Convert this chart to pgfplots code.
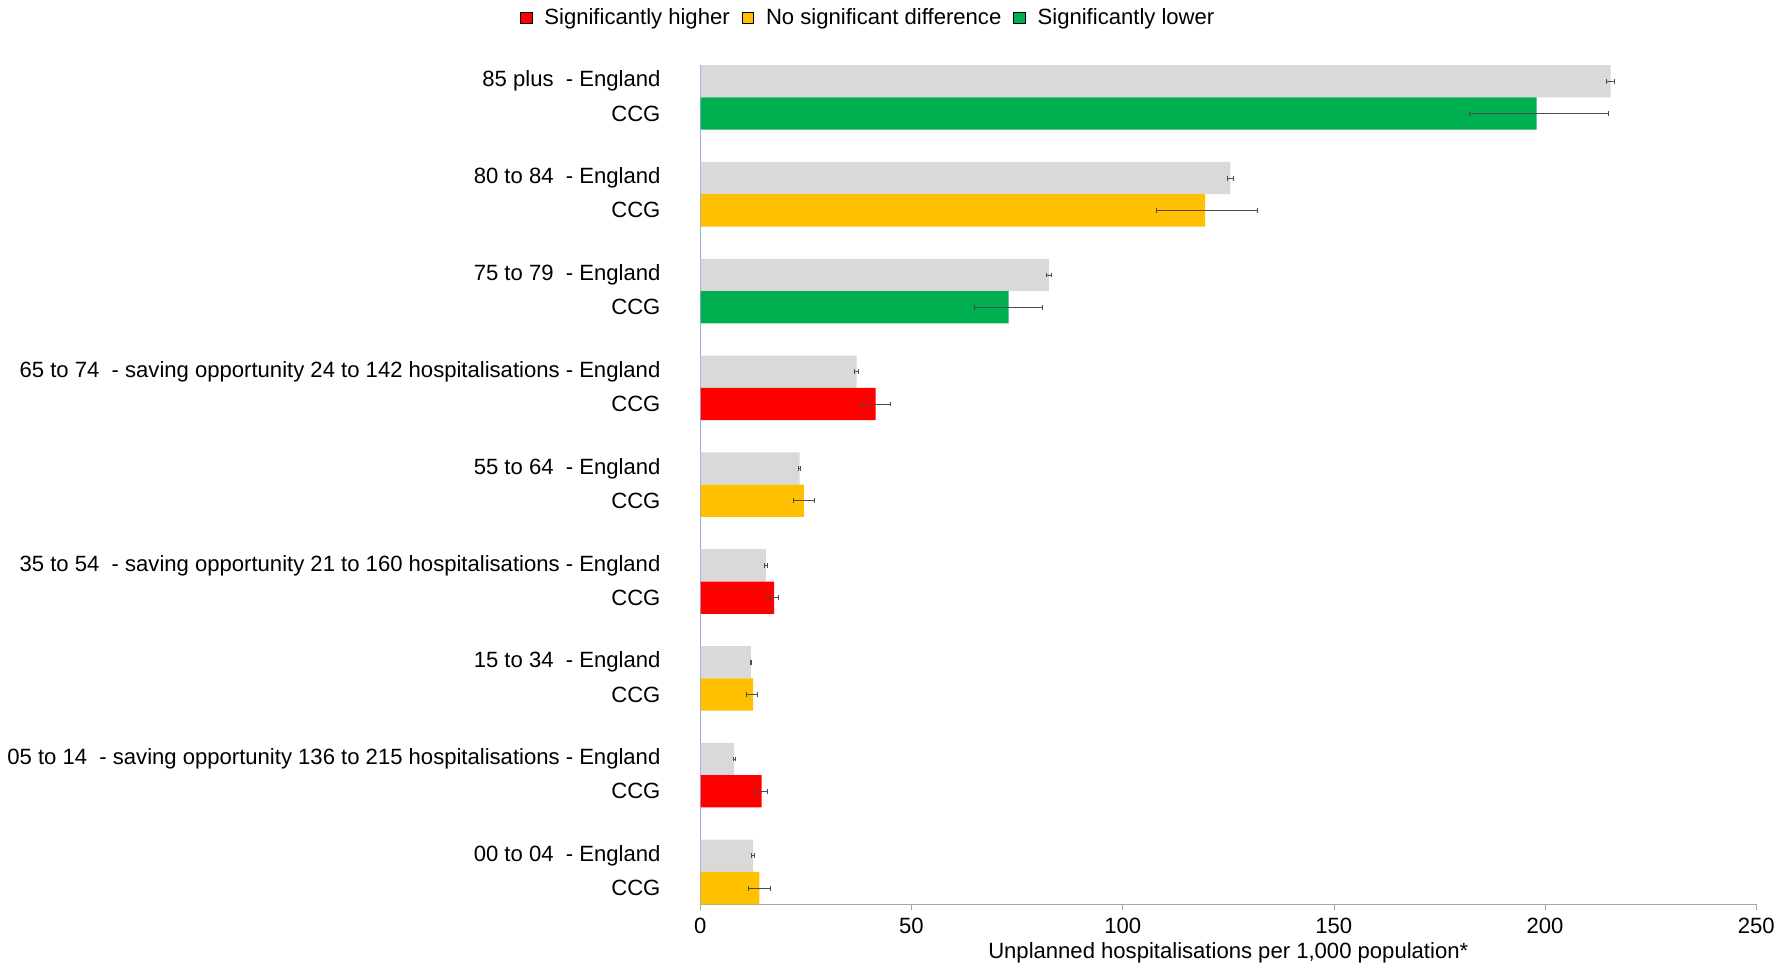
\documentclass[border=0pt]{standalone}
\usepackage{pgfplots}
\pgfplotsset{compat=1.18}
\usepackage{fontspec}
\setmainfont{Liberation Sans}
\definecolor{eng}{HTML}{D9D9D9}
\definecolor{sh}{HTML}{FF0000}
\definecolor{nd}{HTML}{FFC000}
\definecolor{sl}{HTML}{00B050}
\newcommand{\fs}{\fontsize{11}{13}\selectfont}
\begin{document}
\fs
\begin{tikzpicture}
\begin{axis}[
  scale only axis, width=526pt, height=418pt,
  xbar, bar width=1, bar shift=0pt,
  xmin=0, xmax=250, ymin=-0.5, ymax=25.5,
  xtick={0,50,100,150,200,250},
  ytick={0,1,3,4,6,7,9,10,12,13,15,16,18,19,21,22,24,25},
  yticklabels={CCG,00 to 04\ \ - England,CCG,05 to 14\ \ - saving opportunity 136 to 215 hospitalisations - England,CCG,15 to 34\ \ - England,CCG,35 to 54\ \ - saving opportunity 21 to 160 hospitalisations - England,CCG,55 to 64\ \ - England,CCG,65 to 74\ \ - saving opportunity 24 to 142 hospitalisations - England,CCG,75 to 79\ \ - England,CCG,80 to 84\ \ - England,CCG,85 plus\ \ - England},
  yticklabel style={font=\fs, xshift=-13pt},
  xticklabel style={font=\fs},
  /pgf/number format/assume math mode=true,
  axis x line*=bottom, axis y line*=left,
  x axis line style={draw=gray!70},
  y axis line style={draw=cyan!40!blue!40},
  y tick style={draw=none},
  x tick style={draw=gray!70}, tick align=outside, major tick length=3pt,
  xlabel={Unplanned hospitalisations per 1,000 population*},
  xlabel style={font=\fs, yshift=3pt},
  legend columns=3,
  legend style={at={(rel axis cs:0.16,1.035)}, anchor=south, draw=none, font=\fs, column sep=4pt},
  legend image code/.code={\fill[#1] (0cm,-0.1cm) rectangle (0.2cm,0.1cm);},
  error bars/error bar style={gray!60!black, line width=0.4pt},
  error bars/error mark options={rotate=90, mark size=1.2pt, gray!60!black},
]
\addlegendimage{fill=sh}\addlegendentry{Significantly higher}
\addlegendimage{fill=nd}\addlegendentry{No significant difference}
\addlegendimage{fill=sl}\addlegendentry{Significantly lower}
\addplot[fill=eng, draw=none, forget plot, error bars/.cd, x dir=both, x explicit] coordinates {
(12.5,1) +- (0.3,0)
(8,4) +- (0.2,0)
(12,7) +- (0.2,0)
(15.5,10) +- (0.3,0)
(23.5,13) +- (0.3,0)
(37,16) +- (0.4,0)
(82.5,19) +- (0.6,0)
(125.5,22) +- (0.8,0)
(215.5,25) +- (1,0)
};
\addplot[fill=nd, draw=none, forget plot, error bars/.cd, x dir=both, x explicit] coordinates {
(14,0) += (2.5,0) -= (2.5,0)
(12.5,6) += (1,0) -= (1.5,0)
(24.5,12) += (2.5,0) -= (2.5,0)
(119.5,21) += (12.5,0) -= (11.5,0)
};
\addplot[fill=sh, draw=none, forget plot, error bars/.cd, x dir=both, x explicit] coordinates {
(14.5,3) += (1.5,0) -= (1.5,0)
(17.5,9) += (1,0) -= (1.5,0)
(41.5,15) += (3.5,0) -= (3.5,0)
};
\addplot[fill=sl, draw=none, forget plot, error bars/.cd, x dir=both, x explicit] coordinates {
(73,18) += (8,0) -= (8,0)
(198,24) += (17,0) -= (16,0)
};
\draw[cyan!40!blue!40] (rel axis cs:0,0) -- (rel axis cs:0,1);
\end{axis}
\end{tikzpicture}
\end{document}
